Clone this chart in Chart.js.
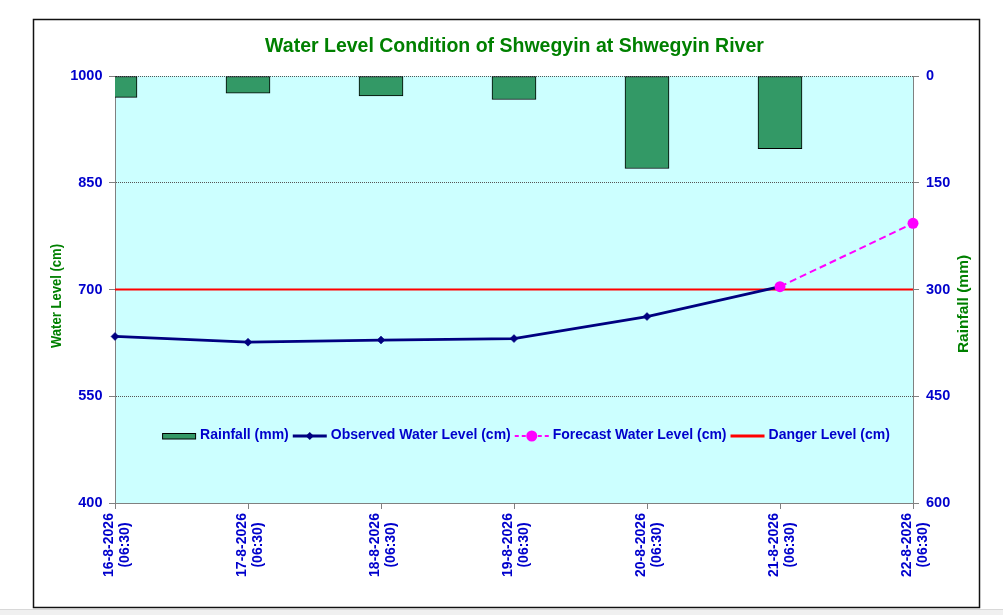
<!DOCTYPE html>
<html>
<head>
<meta charset="utf-8">
<script src="https://cdn.jsdelivr.net/npm/chart.js@4.4.1/dist/chart.umd.min.js"></script>
<style>
html,body{margin:0;padding:0;background:#fff;overflow:hidden}
#wrap{position:relative;width:1003px;height:615px}
</style>
</head>
<body>
<div id="wrap"><canvas id="c" width="1003" height="615"></canvas></div>
<script>
// ---- data ----
const dates = ['16-8-2026','17-8-2026','18-8-2026','19-8-2026','20-8-2026','21-8-2026','22-8-2026'];
const times = ['(06:30)','(06:30)','(06:30)','(06:30)','(06:30)','(06:30)','(06:30)'];
const rainfall = [30, 24, 28, 33, 130, 102, null];
const observed = [634, 626, 629, 631, 662, 704, null];
const forecast = [null, null, null, null, null, 704, 793];
const danger = [700, 700, 700, 700, 700, 700, 700];
const levelTicks = [400, 550, 700, 850, 1000];
const rainTicks = [0, 150, 300, 450, 600];
const chartTitle = 'Water Level Condition of Shwegyin at Shwegyin River';
const leftTitle = 'Water Level (cm)';
const rightTitle = 'Rainfall (mm)';

// ---- styles ----
const FONT = "'Liberation Sans', Arial, Helvetica, sans-serif";
const BLUE = '#0000CC';
const GREEN = '#008000';
Chart.defaults.font.family = FONT;

const decor = {
  id: 'decor',
  beforeDraw(chart) {
    const {ctx, chartArea: a} = chart;
    ctx.save();
    ctx.fillStyle = '#ffffff';
    ctx.fillRect(0, 0, chart.width, chart.height);
    ctx.fillStyle = '#f0f0f0';
    ctx.fillRect(0, 609, chart.width, 6);
    ctx.fillStyle = '#d8d8d8';
    ctx.fillRect(0, 609, chart.width, 1);
    ctx.fillStyle = '#ccffff';
    ctx.fillRect(a.left, a.top, a.right - a.left, a.bottom - a.top);
    ctx.strokeStyle = '#111';
    ctx.lineWidth = 1.5;
    ctx.strokeRect(33.5, 19.5, 946, 588);
    ctx.restore();
  },
  afterDraw(chart) {
    const {ctx} = chart;
    ctx.save();
    // title
    ctx.fillStyle = GREEN;
    ctx.font = `bold 19.5px ${FONT}`;
    ctx.textAlign = 'center';
    ctx.textBaseline = 'alphabetic';
    ctx.fillText(chartTitle, 514.5, 51.5);

    const vtext = (txt, x, y, font, color, baseline, maxW) => {
      ctx.save();
      ctx.translate(x, y);
      ctx.rotate(-Math.PI / 2);
      ctx.font = font;
      ctx.fillStyle = color;
      ctx.textAlign = 'center';
      ctx.textBaseline = baseline;
      if (maxW) ctx.fillText(txt, 0, 0, maxW); else ctx.fillText(txt, 0, 0);
      ctx.restore();
    };
    // axis titles
    vtext(leftTitle, 56.5, 296, `bold 15px ${FONT}`, GREEN, 'middle', 104);
    vtext(rightTitle, 964, 304, `bold 15.5px ${FONT}`, GREEN, 'middle');

    // x labels
    const xs = chart.scales.x;
    dates.forEach((d, i) => {
      const px = xs.getPixelForValue(i);
      vtext(d, px - 2.5, 545, `bold 14px ${FONT}`, BLUE, 'alphabetic');
      vtext(times[i], px + 13.5, 545, `bold 14px ${FONT}`, BLUE, 'alphabetic');
    });

    // legend (inside plot)
    ctx.font = `bold 14px ${FONT}`;
    ctx.textAlign = 'left';
    ctx.textBaseline = 'alphabetic';
    const ds = chart.data.datasets;
    const items = [ds[0], ds[1], ds[2], ds[3]];
    const mw = 34, g1 = 4, g2 = 4;
    let total = 0;
    items.forEach((it, k) => {
      total += mw + g1 + ctx.measureText(it.label).width + (k < items.length - 1 ? g2 : 0);
    });
    let x = 526 - total / 2;
    const my = 436;
    items.forEach((it, k) => {
      ctx.save();
      if (it.type === 'bar') {
        ctx.fillStyle = it.backgroundColor;
        ctx.fillRect(x + 0.5, my - 2.5, mw - 1, 5.5);
        ctx.strokeStyle = '#000';
        ctx.lineWidth = 1;
        ctx.strokeRect(x + 0.5, my - 2.5, mw - 1, 5.5);
      } else {
        ctx.strokeStyle = it.borderColor;
        ctx.lineWidth = it.legendWidth || it.borderWidth;
        if (it.legendDash) {
          ctx.setLineDash(it.legendDash);
          ctx.beginPath();
          ctx.moveTo(x, my); ctx.lineTo(x + 11, my);
          ctx.stroke();
          ctx.beginPath();
          ctx.moveTo(x + mw, my); ctx.lineTo(x + mw - 11, my);
          ctx.stroke();
          ctx.setLineDash([]);
        } else {
          ctx.beginPath();
          ctx.moveTo(x, my);
          ctx.lineTo(x + mw, my);
          ctx.stroke();
        }
        const cx = x + mw / 2;
        if (it.pointStyle === 'rectRot' && it.pointRadius > 0) {
          const r = it.pointRadius;
          ctx.fillStyle = it.pointBackgroundColor;
          ctx.beginPath();
          ctx.moveTo(cx, my - r); ctx.lineTo(cx + r, my); ctx.lineTo(cx, my + r); ctx.lineTo(cx - r, my);
          ctx.closePath();
          ctx.fill();
        } else if (it.pointStyle === 'circle' && it.pointRadius > 0) {
          ctx.fillStyle = it.pointBackgroundColor;
          ctx.beginPath();
          ctx.arc(cx, my, it.pointRadius, 0, Math.PI * 2);
          ctx.fill();
        }
      }
      ctx.restore();
      x += mw + g1;
      ctx.fillStyle = BLUE;
      ctx.fillText(it.label, x, my + 3);
      x += ctx.measureText(it.label).width + g2;
    });
    ctx.restore();
  }
};

new Chart(document.getElementById('c'), {
  type: 'line',
  data: {
    labels: dates,
    datasets: [
      {
        type: 'bar',
        label: 'Rainfall (mm)',
        data: rainfall,
        yAxisID: 'y2',
        backgroundColor: '#339966',
        borderColor: '#000000',
        borderWidth: 1,
        borderSkipped: false,
        barThickness: 44,
        clip: 0,
        order: 3
      },
      {
        type: 'line',
        label: 'Observed Water Level (cm)',
        data: observed,
        yAxisID: 'y',
        borderColor: '#000080',
        borderWidth: 2.8,
        pointStyle: 'rectRot',
        pointRadius: 4,
        pointBackgroundColor: '#000080',
        pointBorderColor: '#000080',
        pointBorderWidth: 0.5,
        tension: 0,
        clip: false,
        order: 1
      },
      {
        type: 'line',
        label: 'Forecast Water Level (cm)',
        data: forecast,
        yAxisID: 'y',
        borderColor: '#ff00ff',
        borderWidth: 2,
        borderDash: [7, 4],
        legendDash: [4, 3],
        pointStyle: 'circle',
        pointRadius: 5.5,
        pointBackgroundColor: '#ff00ff',
        pointBorderColor: '#ff00ff',
        pointBorderWidth: 0,
        tension: 0,
        clip: false,
        order: 0
      },
      {
        type: 'line',
        label: 'Danger Level (cm)',
        data: danger,
        yAxisID: 'y',
        borderColor: '#ff0000',
        borderWidth: 2.2,
        legendWidth: 3,
        pointRadius: 0,
        tension: 0,
        order: 2
      }
    ]
  },
  options: {
    responsive: false,
    animation: false,
    events: [],
    layout: {padding: {top: 76, bottom: 112, left: 0, right: 0}},
    plugins: {
      legend: {display: false},
      tooltip: {enabled: false},
      title: {display: false}
    },
    scales: {
      x: {
        type: 'category',
        offset: false,
        ticks: {display: false},
        grid: {display: true, offset: false, drawOnChartArea: false, drawTicks: true, tickLength: 6, color: '#808080', tickColor: '#808080'},
        border: {display: true, color: '#808080', width: 1},
        afterFit(s) { s.height = 0; }
      },
      y: {
        position: 'left',
        min: 400,
        max: 1000,
        afterBuildTicks(s) { s.ticks = levelTicks.map(v => ({value: v})); },
        ticks: {color: BLUE, font: {size: 14.5, weight: 'bold', family: FONT}, padding: 6.5, callback: v => String(v)},
        grid: {color: '#555555', lineWidth: 1, drawTicks: true, tickLength: 6, tickColor: '#808080', tickBorderDash: []},
        border: {display: true, color: '#808080', width: 1, dash: [1, 1]},
        afterFit(s) { s.width = 115; }
      },
      y2: {
        position: 'right',
        min: 0,
        max: 600,
        reverse: true,
        afterBuildTicks(s) { s.ticks = rainTicks.map(v => ({value: v})); },
        ticks: {color: BLUE, font: {size: 14.5, weight: 'bold', family: FONT}, padding: 7, callback: v => String(v)},
        grid: {drawOnChartArea: false, drawTicks: true, tickLength: 6, color: '#808080', tickColor: '#808080'},
        border: {display: true, color: '#808080', width: 1},
        afterFit(s) { s.width = 90; }
      }
    }
  },
  plugins: [decor]
});
</script>
</body>
</html>
